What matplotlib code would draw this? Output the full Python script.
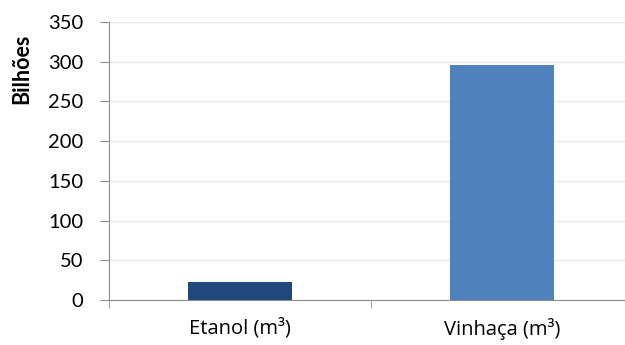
import matplotlib.pyplot as plt

categories = ['Etanol (m³)', 'Vinhaça (m³)']
values = [22.5, 296]
colors = ['#1F497D', '#4F81BD']

plt.rcParams['font.family'] = ['Lato', 'DejaVu Sans']

fig = plt.figure(figsize=(6.25, 3.45), dpi=100)
ax = fig.add_axes([109/625, 45/345, 524/625, 278/345])

x = range(len(categories))
ax.bar(x, values, width=0.4, color=colors, zorder=3)

ax.set_xlim(-0.5, 1.5)
ax.set_ylim(0, 350)
ax.set_yticks(range(0, 351, 50))
ax.set_xticks([0, 1])
ax.set_xticklabels(categories, family=['Open Sans', 'DejaVu Sans'], fontsize=14.5)
ax.set_xticks([-0.5, 0.5, 1.5], minor=True)
ax.tick_params(axis='x', which='major', length=0, pad=13, colors='#000000')
ax.tick_params(axis='x', which='minor', length=6, color='#8c8c8c', direction='out')
ax.tick_params(axis='y', length=6.5, color='#8c8c8c', labelsize=14.5, pad=12)

ax.grid(axis='y', color='#e8e8e8', linewidth=1, zorder=0)
for s in ['top', 'right']:
    ax.spines[s].set_visible(False)
ax.spines['left'].set_color('#8c8c8c')
ax.spines['bottom'].set_color('#8c8c8c')

ax.set_ylabel('Bilhões', fontsize=15.5, fontweight='bold')
ax.yaxis.set_label_coords(-0.147, 0.83)

fig.savefig('out.png', dpi=100)
